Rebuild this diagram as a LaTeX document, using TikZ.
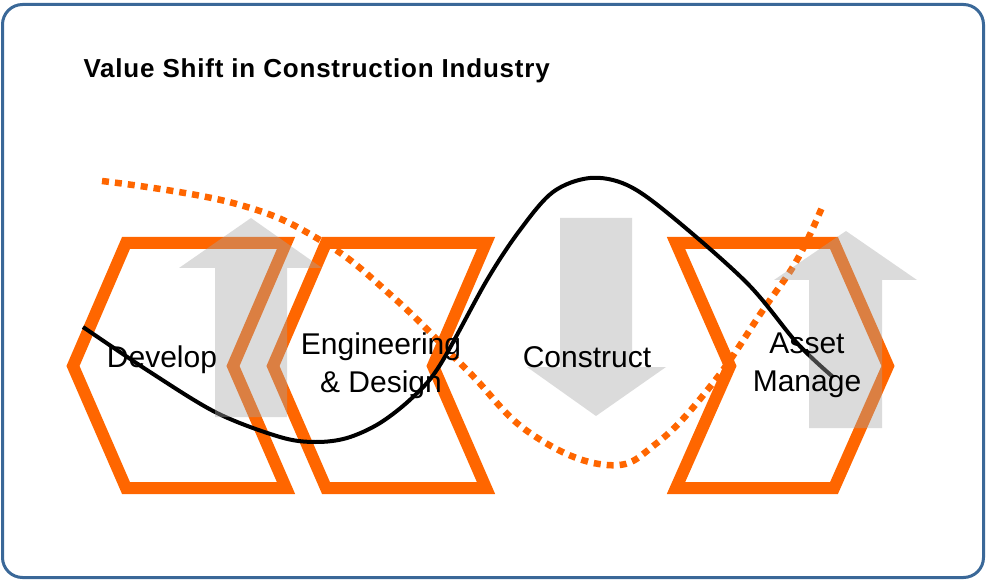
\documentclass[tikz,border=0pt]{standalone}
\usepackage{fontspec}
\setsansfont{Liberation Sans}
\newfontfamily\titlefont[LetterSpace=3]{Liberation Sans}
\usepackage{xcolor}
\definecolor{frameblue}{RGB}{58,104,152}
\definecolor{stageorange}{RGB}{255,102,0}
\tikzstyle{frame} = [draw=frameblue, line width=3pt, rounded corners=20pt]
\tikzstyle{chevron} = [draw=stageorange, line width=12pt, miter limit=10]
\tikzstyle{shiftarrow} = [fill=black!35, fill opacity=0.4]
\tikzstyle{valueline} = [draw=black, line width=4pt]
\tikzstyle{costline} = [draw=stageorange, line width=6.5pt, dash pattern=on 7pt off 6pt]
\tikzstyle{stage} = [font=\fontsize{30}{38}\selectfont\sffamily, align=center, inner sep=0]

\begin{document}
\begin{tikzpicture}[x=1pt, y=-1pt]
\useasboundingbox (0,0) rectangle (986,580);
\draw[frame] (2.5,4.5) rectangle (983.5,577.5);
\node[anchor=base west, font=\fontsize{26}{30}\selectfont\titlefont\bfseries] (title) at (80,78)
    {Value Shift in Construction Industry};

\draw[chevron] (126,243) -- ++(160,0) -- ++(-53,123) -- ++(53,122) -- ++(-160,0) -- ++(-53,-122) -- cycle;
\draw[chevron] (326,243) -- ++(160,0) -- ++(-53,123) -- ++(53,122) -- ++(-160,0) -- ++(-53,-122) -- cycle;
\draw[chevron] (676,243) -- ++(158,0) -- ++(54,123) -- ++(-54,122) -- ++(-158,0) -- ++(54,-122) -- cycle;

\draw[costline] plot[smooth, tension=0.7] coordinates {(102,181) (233,203) (320,240) (393,297)
    (467,370) (530,433) (607,465) (657,443) (713,383) (763,310) (797,260) (823,205)};
\draw[valueline] plot[smooth, tension=0.55] coordinates {(83,327) (150,372) (217,413) (280,437)
    (315,442) (347,438) (380,423) (413,397) (440,365) (487,280) (520,230) (553,192)
    (590,178) (627,185) (670,215) (747,283) (797,343) (833,377)};

\fill[shiftarrow] (215,417) -- (215,268) -- (179,268) -- (251,218) -- (322,268) -- (287,268) -- (287,417) -- cycle;
\fill[shiftarrow] (560,218) -- (560,367) -- (527,367) -- (596,416) -- (666,367) -- (632,367) -- (632,218) -- cycle;
\fill[shiftarrow] (809,428) -- (809,280) -- (774,280) -- (846,231) -- (917,280) -- (882,280) -- (882,428) -- cycle;

\node[stage, anchor=base] (develop) at (162,367) {Develop};
\node[stage] (design) at (381,366) {Engineering\\\& Design};
\node[stage, anchor=base] (construct) at (587,367) {Construct};
\node[stage] (asset) at (807,365) {Asset\\Manage};
\end{tikzpicture}
\end{document}
